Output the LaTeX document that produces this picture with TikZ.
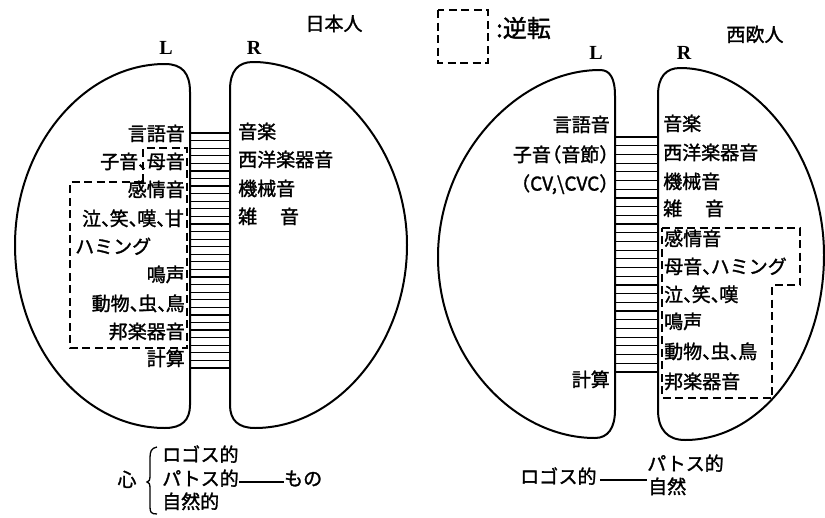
\documentclass[tikz,border=0pt]{standalone}
\usepackage{fontspec}
\setmainfont{Noto Sans CJK JP}[FakeBold=1.5]
\newfontfamily\lrfont{Liberation Serif}
\newcommand\jcomma{\makebox[0.45em][l]{、}}
\newcommand\jlp{\makebox[0.55em][r]{（}}
\newcommand\jrp{\makebox[0.55em][l]{）}}
\tikzset{
  hemi/.style={line width=2pt, line join=round},
  rung/.style={line width=1.2pt},
  rev/.style={line width=1.1pt, dash pattern=on 8pt off 4.5pt},
  link/.style={line width=1.1pt},
  bracel/.style={line width=1.3pt},
  lab/.style={inner sep=0pt, font=\fontsize{19}{21}\selectfont, text height=0.84em, text depth=0.12em},
  labL/.style={lab, anchor=east},
  labR/.style={lab, anchor=west},
  lrlab/.style={inner sep=0pt, font=\lrfont\bfseries\fontsize{20}{22}\selectfont},
}
\begin{document}
\begin{tikzpicture}[x=1pt,y=-1pt]
\clip (0,0) rectangle (825,517);
\fill[white] (0,0) rectangle (825,517);

% ---------- Japanese ----------
\node[lab] (jtitle) at (334,27) {日本人};
\node[lrlab] (jL) at (166,48) {L};
\node[lrlab] (jR) at (254,48) {R};

\draw[hemi] (190,405) -- (190,92) .. controls (190,73) and (182,64) .. (165,64)
  .. controls (85,64) and (15,145) .. (15,245)
  .. controls (15,346) and (82,428) .. (165,428)
  .. controls (182,428) and (190,420) .. (190,405) -- cycle;
\draw[hemi] (230,405) -- (230,90) .. controls (230,71) and (238,62) .. (253,62)
  .. controls (330,62) and (407,145) .. (407,245)
  .. controls (407,346) and (335,428) .. (255,428)
  .. controls (238,428) and (230,420) .. (230,405) -- cycle;
\foreach \i in {0,...,31} \draw[rung] (190,133+\i*7.58) -- (230,133+\i*7.58);

\draw[rev] (143,182) -- (143,148) -- (187,148) -- (187,348) -- (70,348) -- (70,182) -- cycle;

\node[labL] (j1) at (185,137) {言語音};
\node[labL] (j2) at (185,165) {子音\jcomma 母音};
\node[labL] (j3) at (185,193) {感情音};
\node[labL] (j4) at (184,222) {泣\jcomma 笑\jcomma 嘆\jcomma 甘};
\node[labR] (j5) at (75,250) {ハミング};
\node[labL] (j6) at (185,278) {鳴声};
\node[labL] (j7) at (185,307) {動物\jcomma 虫\jcomma 鳥};
\node[labL] (j8) at (185,335) {邦楽器音};
\node[labL] (j9) at (185,362) {計算};

\node[labR] (jr1) at (238,135) {音楽};
\node[labR] (jr2) at (238,163) {西洋楽器音};
\node[labR] (jr3) at (238,192) {機械音};
\node[labR] (jr4) at (238,220) {雑\hspace{1.2em}音};

\node[lab] (jkokoro) at (127,483) {心};
\draw[bracel] (157,447) .. controls (151,448) and (150,452) .. (150,458) -- (150,476)
  .. controls (150,480) and (149,482) .. (147,482)
  .. controls (149,482) and (150,484) .. (150,488) -- (150,507)
  .. controls (150,512) and (151,514) .. (157,514);
\node[labR] (jlogos) at (162,458) {ロゴス的};
\node[labR] (jpathos) at (162,482) {パトス的};
\node[labR] (jnature) at (162,505) {自然的};
\node[labR] (jmono) at (284,482) {もの};
\draw[link] (jpathos.east) -- (jmono.west);

% ---------- legend ----------
\draw[rev] (438,10) rectangle (488,63);
\node[inner sep=0pt, anchor=west, font=\fontsize{24}{26}\selectfont] (legend) at (496,28) {:逆転};

% ---------- Western ----------
\node[lab] (wtitle) at (755,38) {西欧人};
\node[lrlab] (wL) at (596,53) {L};
\node[lrlab] (wR) at (684,53) {R};

\draw[hemi] (615,410) -- (615,96) .. controls (615,78) and (610,70) .. (600,70)
  .. controls (518,70) and (438,155) .. (438,257)
  .. controls (438,355) and (512,438) .. (595,438)
  .. controls (608,438) and (615,428) .. (615,410) -- cycle;
\draw[hemi] (658,410) -- (658,95) .. controls (658,77) and (666,68) .. (680,68)
  .. controls (755,68) and (824,155) .. (824,255)
  .. controls (824,357) and (762,440) .. (685,440)
  .. controls (668,440) and (658,430) .. (658,410) -- cycle;
\foreach \i in {0,...,27} \draw[rung] (615,137+\i*8.7) -- (658,137+\i*8.7);

\draw[rev] (662,228) -- (800,228) -- (800,285) -- (772,285) -- (772,398) -- (662,398) -- cycle;

\node[labL] (w1) at (610,128) {言語音};
\node[labL] (w2) at (610,158) {子音\jlp 音節\jrp};
\node[labL] (w3) at (610,187) {\jlp CV,\textbackslash CVC\jrp};
\node[labL] (w4) at (610,383) {計算};

\node[labR] (wr1) at (663,127) {音楽};
\node[labR] (wr2) at (663,156) {西洋楽器音};
\node[labR] (wr3) at (663,185) {機械音};
\node[labR] (wr4) at (663,212) {雑\hspace{1.2em}音};
\node[labR] (wr5) at (664,242) {感情音};
\node[labR] (wr6) at (664,270) {母音\jcomma ハミング};
\node[labR] (wr7) at (664,298) {泣\jcomma 笑\jcomma 嘆};
\node[labR] (wr8) at (664,325) {鳴声};
\node[labR] (wr9) at (664,355) {動物\jcomma 虫\jcomma 鳥};
\node[labR] (wr10) at (664,385) {邦楽器音};

\node[labR] (wlogos) at (520,480) {ロゴス的};
\node[labR] (wpathos) at (647,467) {パトス的};
\node[labR] (wnature) at (648,490) {自然};
\coordinate (wjoin) at (647,478);
\draw[link] (wlogos.east) ++(3,0) -- (wjoin |- wlogos.east);
\end{tikzpicture}
\end{document}
